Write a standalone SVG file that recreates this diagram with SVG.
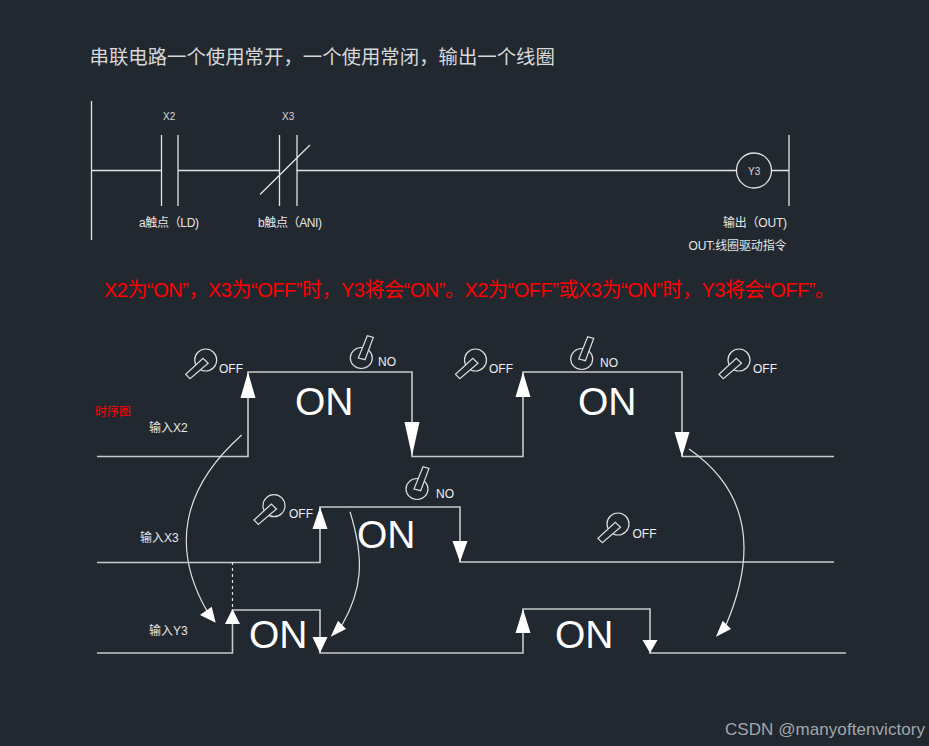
<svg xmlns="http://www.w3.org/2000/svg" xmlns:xlink="http://www.w3.org/1999/xlink" width="929" height="746" viewBox="0 0 929 746">
<style>
text{font-family:"Liberation Sans","Noto Sans CJK SC",sans-serif;fill:#e6e6e6}
.w{fill:none;stroke:#e4e4e4;stroke-width:1.3}
.t{fill:none;stroke:#c9c9c9;stroke-width:1.6}
.c{fill:none;stroke:#e0e0e0;stroke-width:1.2}
.a{fill:#fff;stroke:none}
.s{font-size:12px;fill:#f0f0f0}
.on{font-size:39px;fill:#fff}
.l{font-size:12px}
.x{font-size:10px;fill:#dcdcdc}
.sw{fill:#212830;stroke:#e0e0e0;stroke-width:1.2}
</style>
<defs>
<g id="off"><circle cx="0" cy="0" r="11" class="sw"/><path d="M-20 14.3L-15.7 18.7L2.5 3.3L-2.7 -1.7Z" class="sw"/></g>
<g id="no"><ellipse cx="0" cy="0" rx="11" ry="10.5" class="sw"/><path d="M-3 0L3.7 1.7L12 -20.6L6 -22.3Z" class="sw"/></g>
</defs>
<rect width="929" height="746" fill="#212830"/>
<text id="title" x="89.500" y="63.500" font-size="19.4" style="fill:#d8d8d8">串联电路一个使用常开，一个使用常闭，输出一个线圈</text>
<g id="ladder">
<path class="w" d="M91.500 101V240M91.500 170.500H161.500M161.500 135V206M178 135V206M178 170.500H279.500M279.500 135V206M297 135V206M260 194.500L310 145M297 170.500H737M771 170.500H789M789 135V206"/>
<circle id="coil" class="w" cx="754" cy="170.500" r="17.500"/>
<text class="x" x="163" y="120">X2</text>
<text class="x" x="282" y="120">X3</text>
<text class="x" x="748" y="175">Y3</text>
<text class="l" x="139" y="227" textLength="60">a触点（LD)</text>
<text class="l" x="258" y="227" textLength="64">b触点（ANI)</text>
<text class="l" x="723" y="227" textLength="64">输出（OUT)</text>
<text class="l" x="688.500" y="250" textLength="98">OUT:线圈驱动指令</text>
</g>
<text id="desc" x="104" y="297" font-size="20" textLength="731" style="fill:#ff0000">X2为“ON”，X3为“OFF”时，Y3将会“ON”。X2为“OFF”或X3为“ON”时，Y3将会“OFF”。</text>
<g id="connectors">
<path class="t" d="M97 456.500H248V372H412V456.500H523V372H682V456.500H834"/>
<path class="t" d="M97 562.500H320V507H460V562H834"/>
<path class="t" d="M97 653H232.500V610H320V653H523V609H650V653H846"/>
<path class="c" stroke-dasharray="3 3" d="M232.500 562V609"/>
<path class="c" d="M241.700 435C180 490 172 550 207 611"/>
<path class="c" d="M350 511.700C365 560 362 590 342 625"/>
<path class="c" d="M689 449C748 490 758 550 726 625"/>
<path class="a" d="M248 372L255.500 398H240.500ZM412 456L404.500 422H419.500ZM523 372L530.500 397H515.500ZM682 457L674.500 432H689.500ZM320 507L327.500 529H312.500ZM460 562L452.500 541H467.500ZM232.500 609L240 624H225ZM320 653L327.500 637H312.500ZM523 609L530.500 633H515.500ZM650 653L657.500 640H642.500Z"/>
<path class="a" d="M215.700 622.700L200 615L211.700 606.700ZM330.700 636.700L346 629L338 620.700ZM716 636.700L731 629L722.700 620.700Z"/>
</g>
<g id="switches">
<use xlink:href="#off" href="#off" x="205.700" y="360"/><text class="s" x="219" y="373">OFF</text>
<use xlink:href="#no" href="#no" x="361.300" y="358"/><text class="s" x="378" y="366">NO</text>
<use xlink:href="#off" href="#off" x="475.500" y="360"/><text class="s" x="489" y="373">OFF</text>
<use xlink:href="#no" href="#no" x="581.700" y="359"/><text class="s" x="600" y="367">NO</text>
<use xlink:href="#off" href="#off" x="739" y="360"/><text class="s" x="753" y="373">OFF</text>
<use xlink:href="#no" href="#no" x="417" y="489"/><text class="s" x="436" y="498">NO</text>
<use xlink:href="#off" href="#off" x="274" y="505.700"/><text class="s" x="289" y="518">OFF</text>
<use xlink:href="#off" href="#off" x="618" y="524"/><text class="s" x="632.500" y="538">OFF</text>
</g>
<g id="labels">
<text class="on" x="295" y="415">ON</text>
<text class="on" x="578" y="415">ON</text>
<text class="on" x="357" y="548">ON</text>
<text class="on" x="249" y="648">ON</text>
<text class="on" x="555" y="648">ON</text>
<text class="l" x="95" y="416" style="fill:#ff0000">时序图</text>
<text class="l" x="149" y="432">输入X2</text>
<text class="l" x="140" y="542">输入X3</text>
<text class="l" x="149" y="635">输入Y3</text>
</g>
<text id="watermark" x="725" y="735" font-size="17" textLength="200" style="fill:#a3a7ab">CSDN @manyoftenvictory</text>
</svg>
